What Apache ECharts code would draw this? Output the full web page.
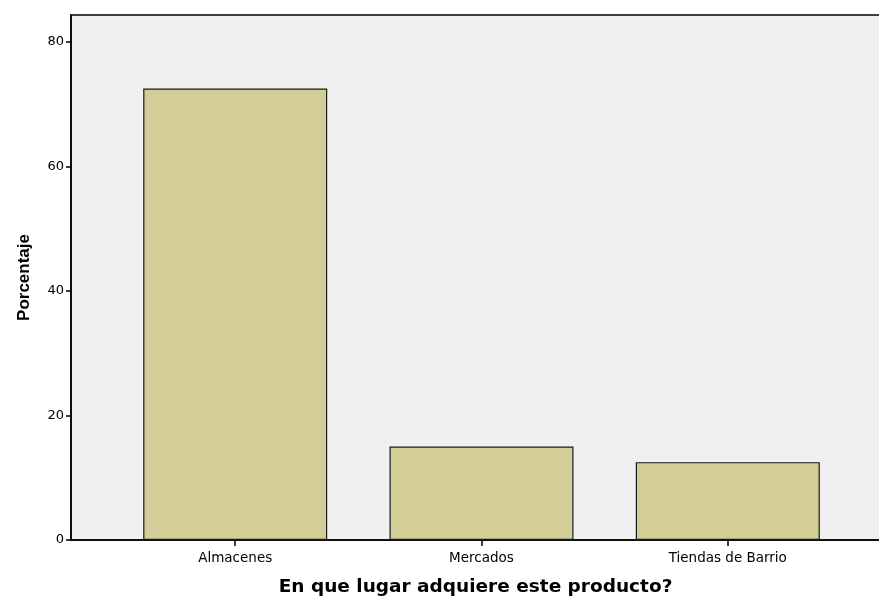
<!DOCTYPE html>
<html>
<head>
<meta charset="utf-8">
<script src="https://cdn.jsdelivr.net/npm/echarts@6/dist/echarts.min.js"></script>
<style>
  html, body { margin: 0; padding: 0; background: #ffffff; }
  #chart { width: 879px; height: 599px; }
</style>
</head>
<body>
<div id="chart"></div>
<script>
// Categories and their percentages
const categories = ['Almacenes', 'Mercados', 'Tiendas de Barrio'];
const percentages = [72.5, 15.0, 12.5];
const yTicks = [0, 20, 40, 60, 80];

const chart = echarts.init(document.getElementById('chart'), null, { renderer: 'canvas' });

const barData = categories.map((c, i) => [i, percentages[i]]);
const catIndexes = categories.map((c, i) => i);

chart.setOption({
  animation: false,
  backgroundColor: '#ffffff',
  textStyle: { fontFamily: 'DejaVu Sans, sans-serif' },
  grid: {
    left: 71, right: -1, top: 15, bottom: 59,
    outerBoundsMode: 'none',
    containLabel: false,
    show: true,
    backgroundColor: '#f0f0f0',
    borderColor: '#000000',
    borderWidth: 1.5
  },
  xAxis: {
    type: 'value',
    min: -0.6667,
    max: 2.618,
    name: 'En que lugar adquiere este producto?',
    nameLocation: 'middle',
    nameGap: 38,
    nameTextStyle: { fontSize: 18.5, fontWeight: 'bold', color: '#000', fontFamily: 'DejaVu Sans' },
    splitLine: { show: false },
    axisLine: { show: true, onZero: false, lineStyle: { color: '#000', width: 1.5 } },
    axisTick: { show: true, length: 6, customValues: catIndexes, lineStyle: { color: '#000', width: 1.5 } },
    axisLabel: {
      customValues: catIndexes,
      formatter: v => categories[Math.round(v)],
      fontSize: 13.5, color: '#000', margin: 11
    }
  },
  yAxis: {
    type: 'value',
    min: 0,
    max: 84.3,
    name: 'Porcentaje',
    nameLocation: 'middle',
    nameGap: 38,
    nameRotate: 90,
    nameTextStyle: { fontSize: 17, fontWeight: 'bold', color: '#000', fontFamily: 'Liberation Sans' },
    splitLine: { show: false },
    axisLine: { show: true, onZero: false, lineStyle: { color: '#000', width: 1.5 } },
    axisTick: { show: true, length: 5, customValues: yTicks, lineStyle: { color: '#000', width: 1.5 } },
    axisLabel: { customValues: yTicks, fontSize: 13, color: '#000', margin: 7 }
  },
  series: [{
    type: 'bar',
    data: barData,
    barWidth: 184,
    itemStyle: { color: '#d3ce97', borderColor: '#1a1a1a', borderWidth: 1.2 }
  }]
});
</script>
</body>
</html>
